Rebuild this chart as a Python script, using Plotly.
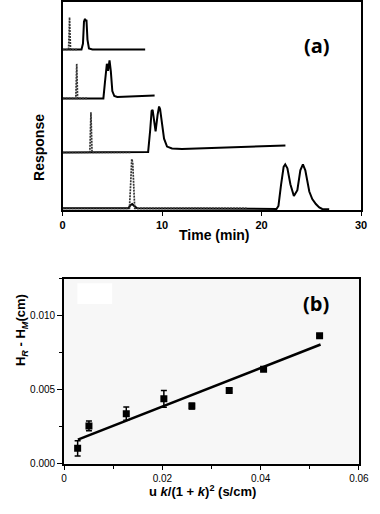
import plotly.graph_objects as go

# ---------- Panel (a): chromatograms (time in min, response arbitrary units) ----------
c1_solid_t = [0, 1.9, 2.05, 2.15, 2.25, 2.32, 2.4, 2.5, 2.65, 3.0, 8.3]
c1_solid_r = [81, 81, 84, 95, 96.5, 95.5, 96, 86, 81.5, 81, 81]
c1_dot_t = [0, 0.6, 0.66, 0.7, 0.74, 0.8, 1.5]
c1_dot_r = [81, 81, 90, 97.3, 90, 81, 81]

c2_solid_t = [0, 4.1, 4.25, 4.38, 4.45, 4.57, 4.66, 4.72, 4.85, 5.0, 5.2, 5.5, 9.25]
c2_solid_r = [56.3, 56.3, 64, 72.5, 73.8, 70.2, 74.5, 75.5, 70, 60, 57.5, 57, 57.8]
c2_dot_t = [0, 1.33, 1.38, 1.42, 1.46, 1.51, 2.5]
c2_dot_r = [56.3, 56.3, 66, 73.8, 66, 56.3, 56.3]

c3_solid_t = [0, 8.6, 8.8, 8.95, 9.05, 9.2, 9.35, 9.55, 9.7, 9.8, 10.0, 10.2, 10.5, 11.0, 12.0, 22.4]
c3_solid_r = [29, 29.3, 40, 50, 50.5, 44, 39.7, 48, 52.2, 51, 44, 36, 32, 31, 30.8, 32.5]
c3_dot_t = [0, 2.74, 2.8, 2.85, 2.9, 2.96, 6.9]
c3_dot_r = [29, 29, 40, 49.3, 40, 29, 29]

c4_solid_t = [0, 6.6, 6.85, 7.0, 7.2, 7.5, 21.5, 21.7, 21.96, 22.22, 22.38, 22.6, 22.9,
              23.25, 23.6, 23.9, 24.16, 24.4, 24.8, 25.1, 25.46, 25.8, 26.1, 26.8]
c4_solid_r = [0.8, 0.8, 2.5, 3, 2, 0.8, 0.5, 2, 12.7, 21.8, 23, 21, 13,
              7, 10, 20, 23, 20, 9.3, 5.5, 3, 1.3, 0.5, 0.3]
c4_dot_t = [0, 6.72, 6.85, 6.95, 7.05, 7.15, 7.25, 18.5]
c4_dot_r = [0.8, 0.8, 14, 25.7, 24, 12, 0.8, 0.8]

time_ticks = [0, 10, 20, 30]

# ---------- Panel (b): plate height vs u k/(1+k)^2 ----------
ukk = [0.00275, 0.00505, 0.01265, 0.0203, 0.0260, 0.0336, 0.0406, 0.0520]
dH = [0.00104, 0.00256, 0.00339, 0.00439, 0.0039, 0.00495, 0.0064, 0.00866]
dH_err = [0.00052, 0.00033, 0.00045, 0.00056, 0.0002, 0.0001, 0.0001, 0.0001]
fit_x = [0.0028, 0.0522]
fit_y = [0.00163, 0.00807]
xb_ticks = [0, 0.02, 0.04, 0.06]
xb_labels = ["0", "0.02", "0.04", "0.06"]
yb_ticks = [0, 0.005, 0.010]

XA_RANGE = [0, 30]
YA_RANGE = [0, 105]
XB_RANGE = [0, 0.06]
YB_RANGE = [0, 0.0125]

FONT = "Liberation Sans, Arial, sans-serif"
fig = go.Figure()

solid = dict(color="black", width=2)
dotted = dict(color="#333333", width=1.7, dash="2px,1px")
for t, r in [(c1_solid_t, c1_solid_r), (c2_solid_t, c2_solid_r),
             (c3_solid_t, c3_solid_r), (c4_solid_t, c4_solid_r)]:
    fig.add_trace(go.Scatter(x=t, y=r, mode="lines", line=solid, xaxis="x", yaxis="y",
                             showlegend=False, hoverinfo="skip"))
for t, r in [(c1_dot_t, c1_dot_r), (c2_dot_t, c2_dot_r),
             (c3_dot_t, c3_dot_r), (c4_dot_t, c4_dot_r)]:
    fig.add_trace(go.Scatter(x=t, y=r, mode="lines", line=dotted, xaxis="x", yaxis="y",
                             showlegend=False, hoverinfo="skip"))

fig.add_trace(go.Scatter(x=fit_x, y=fit_y, mode="lines", line=dict(color="black", width=2.6),
                         xaxis="x2", yaxis="y2", showlegend=False))
fig.add_trace(go.Scatter(x=ukk, y=dH, mode="markers",
                         marker=dict(symbol="square", size=7, color="black"),
                         error_y=dict(type="data", array=dH_err, color="black", thickness=1.5, width=3),
                         xaxis="x2", yaxis="y2", showlegend=False))

W, H = 380, 514
def px(x): return x / W
def py(y): return 1 - y / H

axline = dict(showline=True, linecolor="#000000", linewidth=2, mirror=True,
              showgrid=False, zeroline=False)

fig.update_layout(
    width=W, height=H, margin=dict(l=0, r=0, t=0, b=0),
    paper_bgcolor="white", plot_bgcolor="white",
    font=dict(family=FONT, color="black"),
    xaxis=dict(domain=[px(61.7), px(370.7)], range=XA_RANGE, tickvals=time_ticks,
               ticks="outside", ticklen=4, tickwidth=1, tickcolor="#000000",
               tickfont=dict(size=11, weight="bold"), anchor="y", **axline),
    yaxis=dict(domain=[py(212), py(2)], range=YA_RANGE, showticklabels=False,
               ticks="", anchor="x", **axline),
    xaxis2=dict(domain=[px(63.3), px(368.5)], range=XB_RANGE, tickvals=xb_ticks,
                ticktext=xb_labels,
                ticks="outside", ticklen=4, tickwidth=1, tickcolor="#000000",
                minor=dict(dtick=0.01, tick0=0, ticks="outside", ticklen=3, tickcolor="#000000", tickwidth=1),
                tickfont=dict(size=10), anchor="y2", **axline),
    yaxis2=dict(domain=[py(468.3), py(281.7)], range=YB_RANGE, tickvals=yb_ticks,
                tickformat=".3f",
                ticks="outside", ticklen=5, tickwidth=1, tickcolor="#000000",
                minor=dict(dtick=0.0025, tick0=0, ticks="outside", ticklen=3, tickcolor="#000000", tickwidth=1),
                tickfont=dict(size=10), anchor="x2", **axline),
    shapes=[
        dict(type="rect", xref="x2 domain", yref="y2 domain", x0=0, x1=1, y0=0, y1=1,
             fillcolor="#f7f7f7", line=dict(width=0), layer="below"),
        dict(type="rect", xref="x2 domain", yref="y2 domain", x0=0.045, x1=0.163,
             y0=0.864, y1=0.977, fillcolor="white", line=dict(width=0), layer="below"),
    ],
    annotations=[
        dict(text="(a)", x=px(341), y=py(30), xref="paper", yref="paper", showarrow=False,
             font=dict(family="Open Sans", size=20, weight="bold")),
        dict(text="(b)", x=px(340), y=py(306.5), xref="paper", yref="paper", showarrow=False,
             font=dict(family="Open Sans", size=20, weight="bold")),
        dict(text="Response", x=px(27.5), y=py(113), xref="paper", yref="paper",
             showarrow=False, textangle=-90, font=dict(size=14, weight="bold")),
        dict(text="Time (min)", x=px(219), y=py(237.5), xref="paper", yref="paper",
             showarrow=False, font=dict(size=14, weight="bold")),
        dict(text="H<sub><i>R</i></sub> - H<sub><i>M</i></sub>(cm)", x=px(8.5), y=py(372),
             xref="paper", yref="paper", showarrow=False, textangle=-90,
             font=dict(size=13, weight="bold")),
        dict(text="u <i>k</i>/(1 + <i>k</i>)<sup>2</sup> (s/cm)", x=px(207), y=py(506),
             xref="paper", yref="paper", showarrow=False, font=dict(size=13, weight="bold")),
    ],
)

fig.write_html("out.html")
